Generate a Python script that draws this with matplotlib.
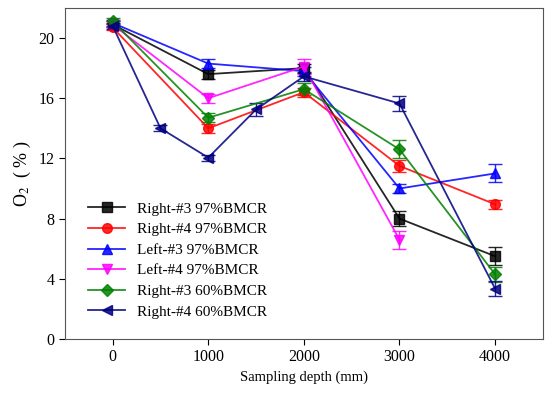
import numpy as np
import matplotlib
matplotlib.use("Agg")
import matplotlib.pyplot as plt
from matplotlib.lines import Line2D

plt.rcParams['font.family'] = ['Liberation Serif', 'DejaVu Serif']
plt.rcParams['mathtext.fontset'] = 'stix'

# depths (mm)
depth = [0, 1000, 2000, 3000, 4000]
depth_l4 = [0, 1000, 2000, 3000]
depth_r4_60 = [0, 500, 1000, 1500, 2000, 3000, 4000]

# O2 (%) and error bars
r3_97 = [20.9, 17.6, 18.0, 8.0, 5.5]
r3_97_err = [0.2, 0.3, 0.3, 0.5, 0.6]
r4_97 = [20.7, 14.0, 16.4, 11.5, 8.95]
r4_97_err = [0.2, 0.3, 0.3, 0.4, 0.3]
l3_97 = [21.0, 18.3, 17.8, 10.0, 11.0]
l3_97_err = [0.2, 0.3, 0.3, 0.3, 0.6]
l4_97 = [20.9, 16.0, 18.1, 6.6]
l4_97_err = [0.2, 0.3, 0.5, 0.6]
r3_60 = [21.1, 14.7, 16.6, 12.6, 4.3]
r3_60_err = [0.2, 0.3, 0.4, 0.6, 0.5]
r4_60 = [20.8, 14.0, 12.05, 15.25, 17.45, 15.65, 3.35]
r4_60_err = [0.2, 0.2, 0.2, 0.4, 0.3, 0.5, 0.5]

labels = ['Right-#3 97%BMCR', 'Right-#4 97%BMCR', 'Left-#3 97%BMCR',
          'Left-#4 97%BMCR', 'Right-#3 60%BMCR', 'Right-#4 60%BMCR']

fig = plt.figure(figsize=(5.5, 3.96), dpi=100)
ax = fig.add_axes([0.118, 0.144, 0.869, 0.836])

series = [
    (depth, r3_97, r3_97_err, 'black', 's'),
    (depth, r4_97, r4_97_err, 'red', 'o'),
    (depth, l3_97, l3_97_err, 'blue', '^'),
    (depth_l4, l4_97, l4_97_err, 'magenta', 'v'),
    (depth, r3_60, r3_60_err, 'green', 'D'),
    (depth_r4_60, r4_60, r4_60_err, 'navy', '<'),
]
handles = []
for (x, y, e, c, m), lab in zip(series, labels):
    ms = 6 if m == 'D' else 7
    ax.errorbar(x, y, yerr=e, color=c, marker=m, markersize=ms, lw=1.3,
                capsize=5, elinewidth=1.0, capthick=1.0, alpha=0.85)
    handles.append(Line2D([], [], color=c, marker=m, markersize=ms, lw=1.3,
                          alpha=0.85, label=lab))

ax.set_xlim(-500, 4500)
ax.set_ylim(0, 22)
ax.set_xticks([0, 1000, 2000, 3000, 4000])
ax.set_yticks([0, 4, 8, 12, 16, 20])
ax.tick_params(labelsize=11.5, direction='out', length=4)
for s in ax.spines.values():
    s.set_color('#555555')
ax.set_xlabel('Sampling depth (mm)', fontsize=10.5)
ax.set_ylabel('O$_2$  ( % )', fontsize=13)

ax.legend(handles=handles, loc='lower left', bbox_to_anchor=(0.02, 0.02),
          frameon=False, fontsize=11, handlelength=2.4, labelspacing=0.45)

fig.savefig('out.png', dpi=100)
